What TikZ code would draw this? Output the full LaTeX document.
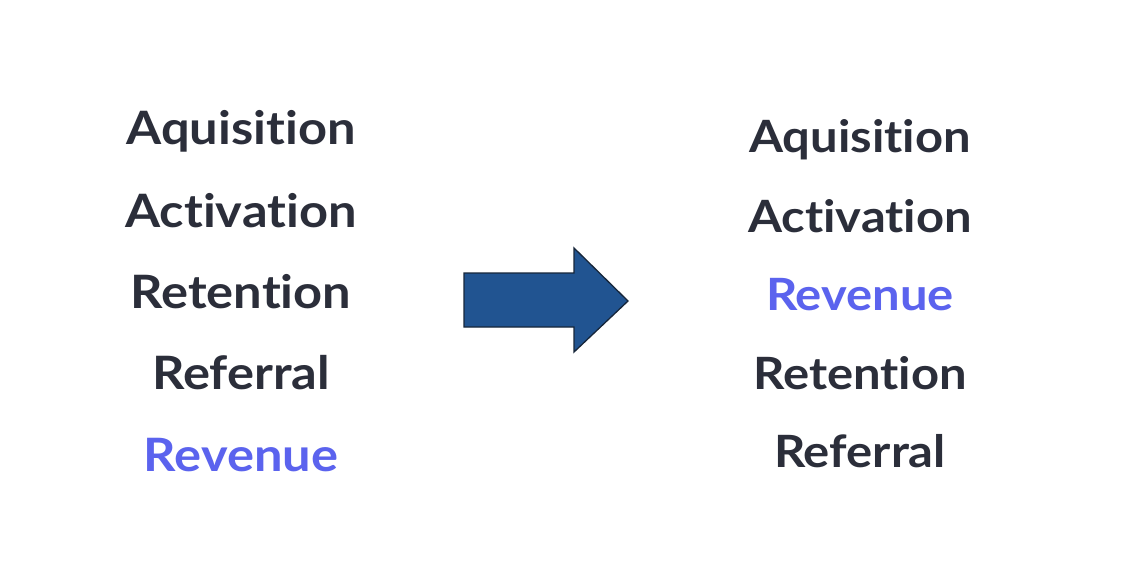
\documentclass[tikz,border=0pt]{standalone}
\usepackage{fontspec}
\setmainfont{Lato}[Ligatures={NoCommon,NoRequired,NoContextual},FakeStretch=1.1]
\definecolor{txtdark}{HTML}{2B2E3A}
\definecolor{txtblue}{HTML}{5B63EE}
\definecolor{arrowfill}{HTML}{215491}
\definecolor{arrowedge}{HTML}{17263A}
\begin{document}
\begin{tikzpicture}[x=1pt,y=1pt,
  item/.style={font=\fontsize{46}{50}\selectfont\bfseries, text=txtdark, inner sep=0pt, text height=34pt, text depth=0pt, anchor=center},
  hl/.style={item, text=txtblue},
  ritem/.style={item, font=\fontsize{44.5}{48}\selectfont\bfseries},
  rhl/.style={ritem, text=txtblue}]
\useasboundingbox (0,0) rectangle (1134,582);
\fill[white] (0,0) rectangle (1134,582);
% left column
\node[item] (l1) at (241,582-128) {Aquisition};
\node[item] (l2) at (241,582-210) {Activation};
\node[item] (l3) at (241,582-291) {Retention};
\node[item] (l4) at (241,582-372) {Referral};
\node[hl]   (l5) at (241,582-454) {Revenue};
% right column
\node[ritem] (r1) at (860,582-136) {Aquisition};
\node[ritem] (r2) at (860,582-215) {Activation};
\node[rhl]   (r3) at (860,582-293) {Revenue};
\node[ritem] (r4) at (860,582-372) {Retention};
\node[ritem] (r5) at (860,582-450) {Referral};
% arrow
\draw[fill=arrowfill, draw=arrowedge, line width=1.3pt, line join=miter]
  (464,582-273) -- (574,582-273) -- (574,582-248) -- (628,582-301)
  -- (574,582-352) -- (574,582-327) -- (464,582-327) -- cycle;
\end{tikzpicture}
\end{document}
